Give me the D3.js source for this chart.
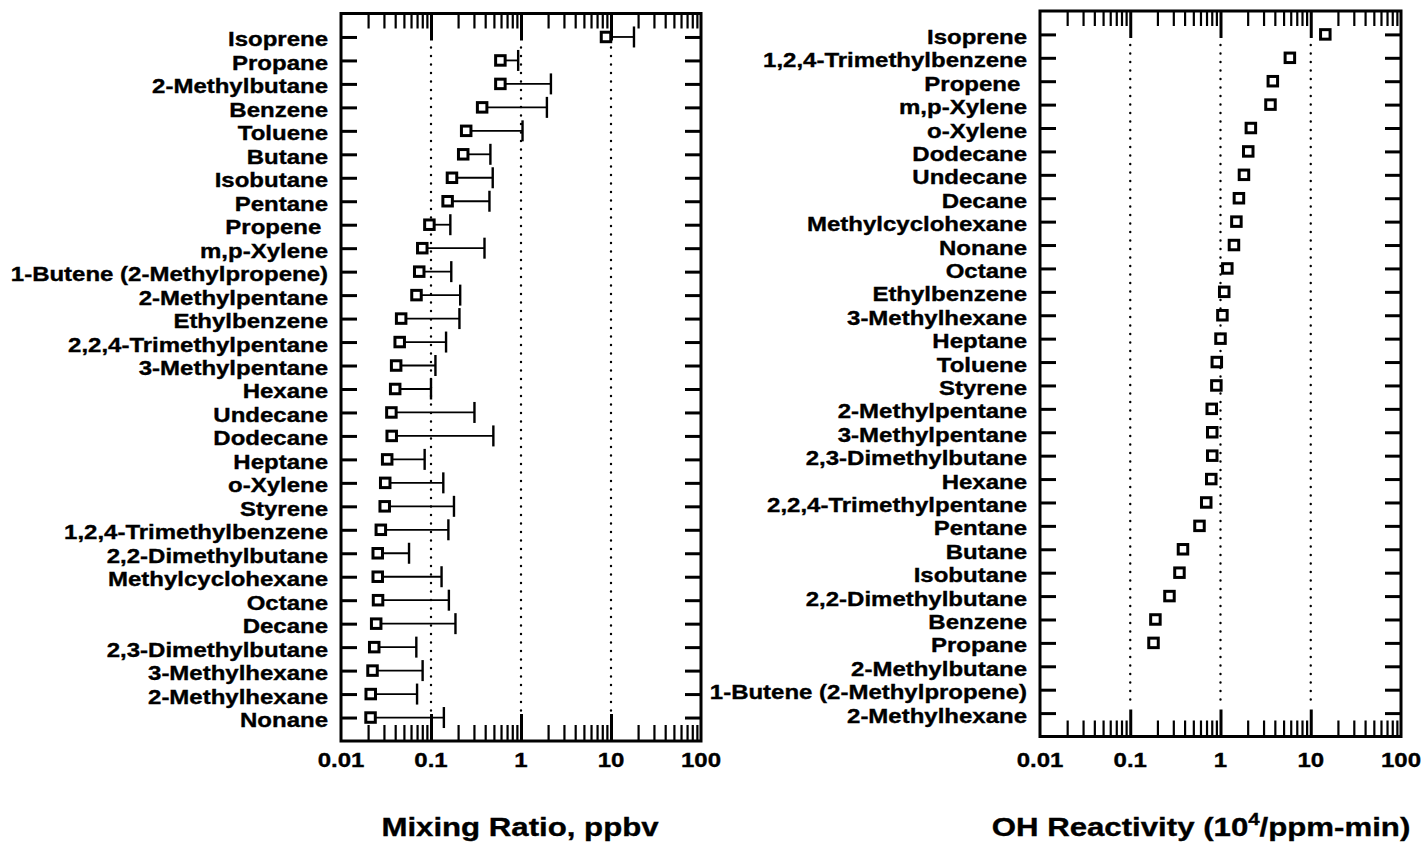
<!DOCTYPE html>
<html>
<head>
<meta charset="utf-8">
<script src="https://cdn.jsdelivr.net/npm/d3@7"></script>
<style>
  body { margin: 0; background: #fff; }
  svg { display: block; font-family: "Liberation Sans", Arial, Helvetica, sans-serif; font-weight: bold; }
  svg text { stroke: #000; stroke-width: 0.35px; }
  .frame { fill: none; stroke: #000; stroke-width: 3; }
  .grid { stroke: #000; stroke-width: 2.4; stroke-dasharray: 0 8.5; stroke-linecap: round; }
  .cat-label { font-size: 20px; white-space: pre; }
  .tick-label { font-size: 20px; }
  .axis-title { font-size: 26px; }
  .point { fill: #fff; stroke: #000; stroke-width: 3; }
  .err { stroke: #000; stroke-width: 1.8; }
  .err-cap { stroke: #000; stroke-width: 2.4; }
</style>
</head>
<body>
<svg id="chart" width="1424" height="846"></svg>
<script>
// ---- data ----
const mixCategories = [
  "Isoprene", "Propane", "2-Methylbutane", "Benzene", "Toluene", "Butane",
  "Isobutane", "Pentane", "Propene ", "m,p-Xylene", "1-Butene (2-Methylpropene)",
  "2-Methylpentane", "Ethylbenzene", "2,2,4-Trimethylpentane", "3-Methylpentane",
  "Hexane", "Undecane", "Dodecane", "Heptane", "o-Xylene", "Styrene",
  "1,2,4-Trimethylbenzene", "2,2-Dimethylbutane", "Methylcyclohexane", "Octane",
  "Decane", "2,3-Dimethylbutane", "3-Methylhexane", "2-Methylhexane", "Nonane"
];
const mixValues = [
  8.8, 0.59, 0.59, 0.37, 0.246, 0.228,
  0.171, 0.153, 0.096, 0.080, 0.074,
  0.069, 0.0466, 0.0449, 0.041,
  0.040, 0.0363, 0.0366, 0.0326, 0.0310, 0.0306,
  0.0277, 0.0256, 0.0256, 0.0258,
  0.0246, 0.0234, 0.0224, 0.0214, 0.0213
];
const mixUpper = [
  18.0, 0.93, 2.15, 1.94, 1.04, 0.457,
  0.485, 0.446, 0.164, 0.393, 0.168,
  0.211, 0.207, 0.147, 0.112,
  0.100, 0.304, 0.493, 0.085, 0.137, 0.180,
  0.156, 0.057, 0.131, 0.158,
  0.187, 0.0687, 0.0807, 0.070, 0.139
];

const ohCategories = [
  "Isoprene", "1,2,4-Trimethylbenzene", "Propene ", "m,p-Xylene", "o-Xylene",
  "Dodecane", "Undecane", "Decane", "Methylcyclohexane", "Nonane", "Octane",
  "Ethylbenzene", "3-Methylhexane", "Heptane", "Toluene", "Styrene",
  "2-Methylpentane", "3-Methylpentane", "2,3-Dimethylbutane", "Hexane",
  "2,2,4-Trimethylpentane", "Pentane", "Butane", "Isobutane",
  "2,2-Dimethylbutane", "Benzene", "Propane", "2-Methylbutane",
  "1-Butene (2-Methylpropene)", "2-Methylhexane"
];
const ohValues = [
  14.5, 5.87, 3.80, 3.58, 2.17,
  2.03, 1.82, 1.60, 1.50, 1.41, 1.19,
  1.10, 1.05, 1.00, 0.91, 0.90,
  0.80, 0.81, 0.81, 0.79,
  0.695, 0.585, 0.384, 0.351,
  0.272, 0.190, 0.181, null,
  null, null
];

const xTickValues = [0.01, 0.1, 1, 10, 100];
const xTickLabels = ["0.01", "0.1", "1", "10", "100"];

// text in the original is stretched sideways
const STRETCH = 1.2;

class LogDotPlot {
  constructor(_config, _data) {
    this.config = {
      parentElement: _config.parentElement,
      left: _config.left,
      right: _config.right,
      top: _config.top,
      bottom: _config.bottom,
      titleX: _config.titleX,
      title: _config.title,
    };
    this.data = _data;
    this.initVis();
    this.renderVis();
  }

  initVis() {
    let vis = this;
    const c = vis.config;

    vis.svg = d3.select(c.parentElement);
    vis.chart = vis.svg.append("g");

    vis.xScale = d3.scaleLog().domain([0.01, 100]).range([c.left, c.right]);
    vis.yScale = d3.scalePoint()
      .domain(vis.data.map(d => d.name))
      .range([c.top, c.bottom])
      .padding(1);

    vis.minorTicks = d3.range(-2, 2).flatMap(k => d3.range(2, 10).map(m => m * Math.pow(10, k)));
    vis.majorTicks = [0.1, 1, 10];
  }

  renderVis() {
    let vis = this;
    const c = vis.config;

    // dotted decade lines
    vis.chart.selectAll(".grid")
      .data(vis.majorTicks)
      .join("line")
      .attr("class", "grid")
      .attr("x1", d => vis.xScale(d))
      .attr("x2", d => vis.xScale(d))
      .attr("y1", c.top + 34)
      .attr("y2", c.bottom - 30);

    const addAxis = (axis, transform, width) => {
      const g = vis.chart.append("g").attr("transform", transform).call(axis);
      g.select(".domain").remove();
      g.selectAll("text").remove();
      g.selectAll(".tick line").attr("stroke", "#000").attr("stroke-width", width);
    };

    // top & bottom log ticks, pointing inwards
    addAxis(d3.axisBottom(vis.xScale).tickValues(vis.minorTicks).tickSize(15), `translate(0,${c.top})`, 2.2);
    addAxis(d3.axisBottom(vis.xScale).tickValues(vis.majorTicks).tickSize(27), `translate(0,${c.top})`, 3);
    addAxis(d3.axisTop(vis.xScale).tickValues(vis.minorTicks).tickSize(16), `translate(0,${c.bottom})`, 2.2);
    addAxis(d3.axisTop(vis.xScale).tickValues(vis.majorTicks).tickSize(27), `translate(0,${c.bottom})`, 3);

    // category ticks on both sides
    addAxis(d3.axisRight(vis.yScale).tickSize(16), `translate(${c.left},0)`, 3);
    addAxis(d3.axisLeft(vis.yScale).tickSize(16), `translate(${c.right},0)`, 3);

    vis.chart.append("rect")
      .attr("class", "frame")
      .attr("x", c.left)
      .attr("y", c.top)
      .attr("width", c.right - c.left)
      .attr("height", c.bottom - c.top);

    // error bars (upper side only)
    const withErr = vis.data.filter(d => d.value != null && d.upper != null);
    vis.chart.selectAll(".err")
      .data(withErr)
      .join("line")
      .attr("class", "err")
      .attr("x1", d => vis.xScale(d.value))
      .attr("x2", d => vis.xScale(d.upper))
      .attr("y1", d => vis.yScale(d.name))
      .attr("y2", d => vis.yScale(d.name));

    vis.chart.selectAll(".err-cap")
      .data(withErr)
      .join("line")
      .attr("class", "err-cap")
      .attr("x1", d => vis.xScale(d.upper))
      .attr("x2", d => vis.xScale(d.upper))
      .attr("y1", d => vis.yScale(d.name) - 10.5)
      .attr("y2", d => vis.yScale(d.name) + 10.5);

    const s = 9.5;
    vis.chart.selectAll(".point")
      .data(vis.data.filter(d => d.value != null))
      .join("rect")
      .attr("class", "point")
      .attr("x", d => vis.xScale(d.value) - s / 2)
      .attr("y", d => vis.yScale(d.name) - s / 2)
      .attr("width", s)
      .attr("height", s);

    // category labels
    vis.chart.selectAll(".cat-label")
      .data(vis.data)
      .join("text")
      .attr("class", "cat-label")
      .attr("text-anchor", "end")
      .attr("transform", d => `translate(${c.left - 13},${vis.yScale(d.name) + 9.5}) scale(${STRETCH},1)`)
      .text(d => d.name);

    // x tick labels
    vis.chart.selectAll(".tick-label")
      .data(xTickValues)
      .join("text")
      .attr("class", "tick-label")
      .attr("text-anchor", "middle")
      .attr("transform", d => `translate(${vis.xScale(d)},767) scale(${STRETCH},1)`)
      .text((d, i) => xTickLabels[i]);

    const title = vis.chart.append("text")
      .attr("class", "axis-title")
      .attr("text-anchor", "middle")
      .attr("transform", `translate(${c.titleX},836) scale(${STRETCH},1)`);
    c.title(title);
  }
}

const mixData = mixCategories.map((name, i) => ({ name, value: mixValues[i], upper: mixUpper[i] }));
const ohData = ohCategories.map((name, i) => ({ name, value: ohValues[i], upper: null }));

new LogDotPlot({
  parentElement: "#chart",
  left: 341, right: 701, top: 13.5, bottom: 741,
  titleX: 520,
  title: t => t.text("Mixing Ratio, ppbv"),
}, mixData);

new LogDotPlot({
  parentElement: "#chart",
  left: 1040, right: 1401, top: 11, bottom: 736.5,
  titleX: 1201,
  title: t => {
    t.append("tspan").text("OH Reactivity (10");
    t.append("tspan").attr("font-size", 17).attr("dy", -11).text("4");
    t.append("tspan").attr("dy", 11).text("/ppm-min)");
  },
}, ohData);
</script>
</body>
</html>
